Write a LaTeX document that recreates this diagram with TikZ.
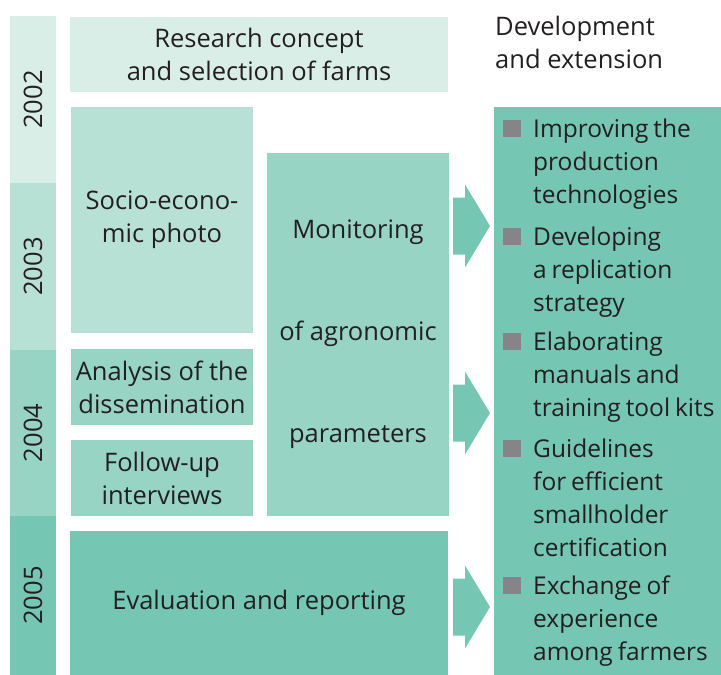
\documentclass[tikz,border=0pt]{standalone}
\usepackage{fontspec}
\setmainfont{Open Sans}
\usetikzlibrary{positioning}

\definecolor{phaseA}{HTML}{DAEEE8}
\definecolor{phaseB}{HTML}{B8E1D6}
\definecolor{phaseC}{HTML}{97D4C4}
\definecolor{phaseD}{HTML}{75C7B4}
\definecolor{bulletgrey}{HTML}{858589}
\definecolor{inkdark}{HTML}{231F20}

% slightly smaller, tighter text for the outcome list
\newcommand{\listfont}{\fontsize{24.5}{33}\selectfont\spaceskip=0.2em plus 0.05em\relax}

\begin{document}
\begin{tikzpicture}[x=1pt,y=-1pt]
	% Shared text look for the whole sheet
	\tikzstyle{every node}=[font=\fontsize{25.5}{33}\selectfont,text=inkdark]
	\tikzstyle{phasebox}=[inner sep=0pt,align=center]
	% anchored on the baseline of the last line
	\tikzstyle{itemtext}=[inner sep=0pt,align=left,anchor=base west]
	\tikzstyle{listtext}=[itemtext,font=\listfont]

	\useasboundingbox (0,0) rectangle (721,675);

	% the year bar on the left
	% yr: year, ytop/ybot: extent of the segment, col: fill colour
	\foreach \yr/\ytop/\ybot/\col in
	{
		2002/16/183/phaseA,
		2003/183/350/phaseB,
		2004/350/516/phaseC,
		2005/516/675/phaseD} {
		\fill[fill=\col] (10,\ytop) rectangle (56,\ybot);
		\node[rotate=90] (y\yr) at (33,{(\ytop+\ybot)/2}) {\yr};
	}

	% the activity boxes
	\node[phasebox,fill=phaseA,minimum width=378pt,minimum height=75pt] (research) at (259,54.5)
		{Research concept\\and selection of farms};
	\node[phasebox,fill=phaseB,minimum width=182pt,minimum height=226pt] (socio) at (162,220)
		{Socio-econo-\\mic photo};
	\node[phasebox,fill=phaseC,minimum width=182pt,minimum height=76pt] (analysis) at (162,387)
		{Analysis of the\\dissemination};
	\node[phasebox,fill=phaseC,minimum width=182pt,minimum height=76pt] (followup) at (162,478)
		{Follow-up\\interviews};
	\node[phasebox,fill=phaseD,minimum width=378pt,minimum height=144pt] (evaluation) at (259,603)
		{Evaluation and reporting};
	\node[phasebox,fill=phaseC,minimum width=182pt,minimum height=363pt] (monitoring) at (358,334.5)
		{Monitoring\\[69pt]of agronomic\\[69pt]parameters};
	\node[phasebox,fill=phaseD,minimum width=227pt,minimum height=568pt] (outcome) at (607.5,391) {};

	% block arrows into the outcome box
	\foreach \ay in {226,413,607} {
		\fill[phaseD] (453,\ay-28.5) -- (465,\ay-28.5) -- (465,\ay-41.5) -- (490,\ay)
			-- (465,\ay+41.5) -- (465,\ay+28.5) -- (453,\ay+28.5) -- cycle;
	}

	% heading of the right column
	\node[itemtext] (heading) at (495,68) {Development\\and extension};

	% list of outcomes with grey squares
	% by: baseline of first line, nl: number of lines, txt: item text
	\foreach \by/\nl/\txt [count=\i] in
	{
		137/3/{Improving the\\production\\technologies},
		245/3/{Developing\\a replication\\strategy},
		350/3/{Elaborating\\manuals and\\training tool kits},
		457/4/{Guidelines\\for efficient\\smallholder\\certification},
		594/3/{Exchange of\\experience\\among farmers}} {
		\fill[bulletgrey] (503,\by-17) rectangle (521,\by);
		\node[listtext] (item\i) at (533,{\by+33*(\nl-1)}) {\txt};
	}
\end{tikzpicture}
\end{document}
